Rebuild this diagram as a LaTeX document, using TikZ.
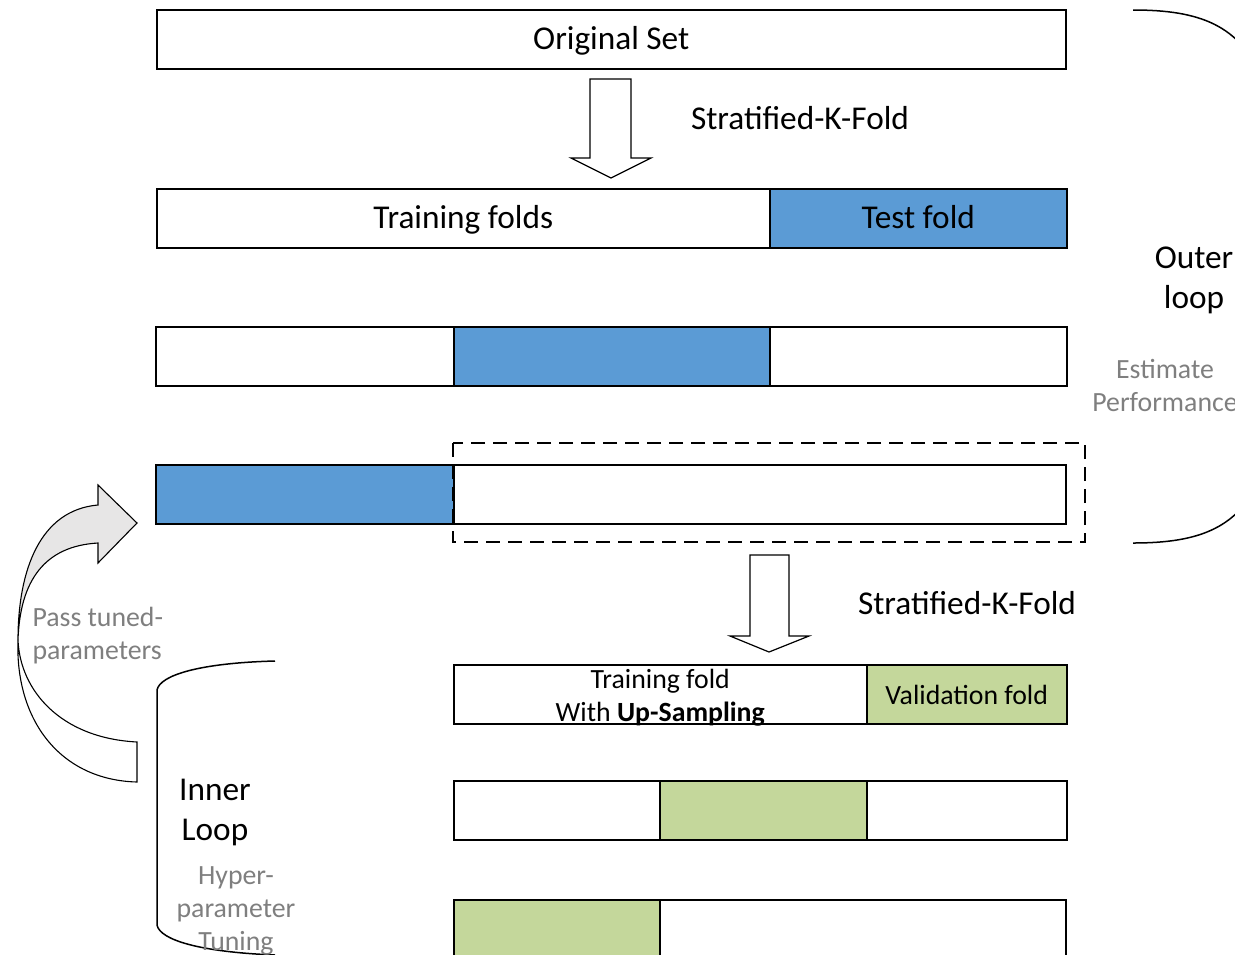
\documentclass[tikz,border=0pt]{standalone}
\usepackage{fontspec}
\setmainfont{Carlito}
\usepackage{xcolor}
\usetikzlibrary{positioning}
\definecolor{foldblue}{HTML}{5B9BD5}
\definecolor{foldgreen}{HTML}{C4D79B}
\definecolor{notegray}{HTML}{7F7F7F}
\definecolor{arrowgray}{HTML}{E7E6E6}
\tikzset{
  fold/.style={draw, line width=1.5pt, inner sep=0pt, minimum height=59pt, anchor=north west},
  bigtext/.style={font=\fontsize{33.3}{40}\selectfont, align=center},
  smalltext/.style={font=\fontsize{27.8}{33}\selectfont, align=center},
  bigline/.style={bigtext, text height=25pt, text depth=5pt},
  smallline/.style={smalltext, text height=21pt, text depth=1pt},
  note/.style={smalltext, text=notegray},
  blockarrow/.style={draw, line width=1.2pt, fill=white, line join=miter},
}

\begin{document}
\begin{tikzpicture}[x=1pt, y=-1pt]
  \path[use as bounding box, clip] (0,0) rectangle (1235,954);

  % outer split
  \node[fold, minimum width=909] (orig) at (156,9) {};
  \node[bigline] (origtxt) at (orig.center) {Original Set};
  \draw[blockarrow] (590,79) -- (631,79) -- (631,158) -- (651,158) -- (611,178)
    -- (571,158) -- (590,158) -- cycle;
  \node[bigline] (skf1) at (800,119) {Stratified-K-Fold};

  \node[fold, minimum width=613] (trainA) at (156,188) {};
  \node[fold, minimum width=297, fill=foldblue] (testA) at (769,188) {};
  \node[bigline] at (trainA.center) {Training folds};
  \node[bigline] at (testA.center) {Test fold};

  \node[fold, minimum width=298] (trainB1) at (155,326) {};
  \node[fold, minimum width=316, fill=foldblue] (testB) at (453,326) {};
  \node[fold, minimum width=297] (trainB2) at (769,326) {};

  \node[fold, minimum width=298, fill=foldblue] (testC) at (155,464) {};
  \node[fold, minimum width=612] (trainC) at (453,464) {};
  \draw[line width=1.3pt, dash pattern=on 14pt off 8pt] (453,443) rectangle (1085,542);

  % inner split
  \draw[blockarrow] (750,555) -- (789,555) -- (789,636) -- (809,636) -- (769,652)
    -- (730,636) -- (750,636) -- cycle;
  \node[bigline] (skf2) at (967,604) {Stratified-K-Fold};

  \node[fold, minimum width=413] (trainD) at (453,664) {};
  \node[fold, minimum width=200, fill=foldgreen] (valD) at (866,664) {};
  \node[smalltext] at ([yshift=-3pt]trainD.center) {Training fold\\With \textbf{Up-Sampling}};
  \node[smallline] at (valD.center) {Validation fold};

  \node[fold, minimum width=206] (trainE1) at (453,780) {};
  \node[fold, minimum width=207, fill=foldgreen] (valE) at (659,780) {};
  \node[fold, minimum width=200] (trainE2) at (866,780) {};

  \node[fold, minimum width=206, fill=foldgreen] (valF) at (453,899) {};
  \node[fold, minimum width=406] (trainF) at (659,899) {};

  % outer loop bracket
  \draw[line width=1.5pt] (1133,10) .. controls (1200,10) and (1240,25) .. (1263,80)
    -- (1263,473) .. controls (1240,528) and (1200,543) .. (1133,543);
  \node[bigtext] (outer) at (1194,280) {Outer\\loop};
  \node[note] (estimate) at (1165,385.5) {Estimate\\Performance};

  % inner loop bracket
  \draw[line width=1.5pt] (275,661) .. controls (200,663) and (160,675) .. (157,690)
    -- (157,925) .. controls (160,940) and (200,952) .. (275,955);
  \node[bigtext] (inner) at (215,812) {Inner\\Loop};
  \node[note] (hyper) at (236,911) {Hyper-\\parameter\\Tuning};

  % pass tuned parameters
  \draw[line width=1.1pt, fill=white] (18,640) .. controls (20,690) and (60,738) .. (137,742)
    -- (137,782) .. controls (60,780) and (15,720) .. (18,640) -- cycle;
  \draw[line width=1.1pt, fill=arrowgray, line join=miter] (98,505) .. controls (40,510) and (18,570) .. (18,640)
    .. controls (20,580) and (45,546) .. (98,543) -- (98,563) -- (137,523) -- (98,485) -- cycle;
  \node[note, align=left, anchor=west] (pass) at (29,636) {Pass tuned-\\parameters};
\end{tikzpicture}
\end{document}
